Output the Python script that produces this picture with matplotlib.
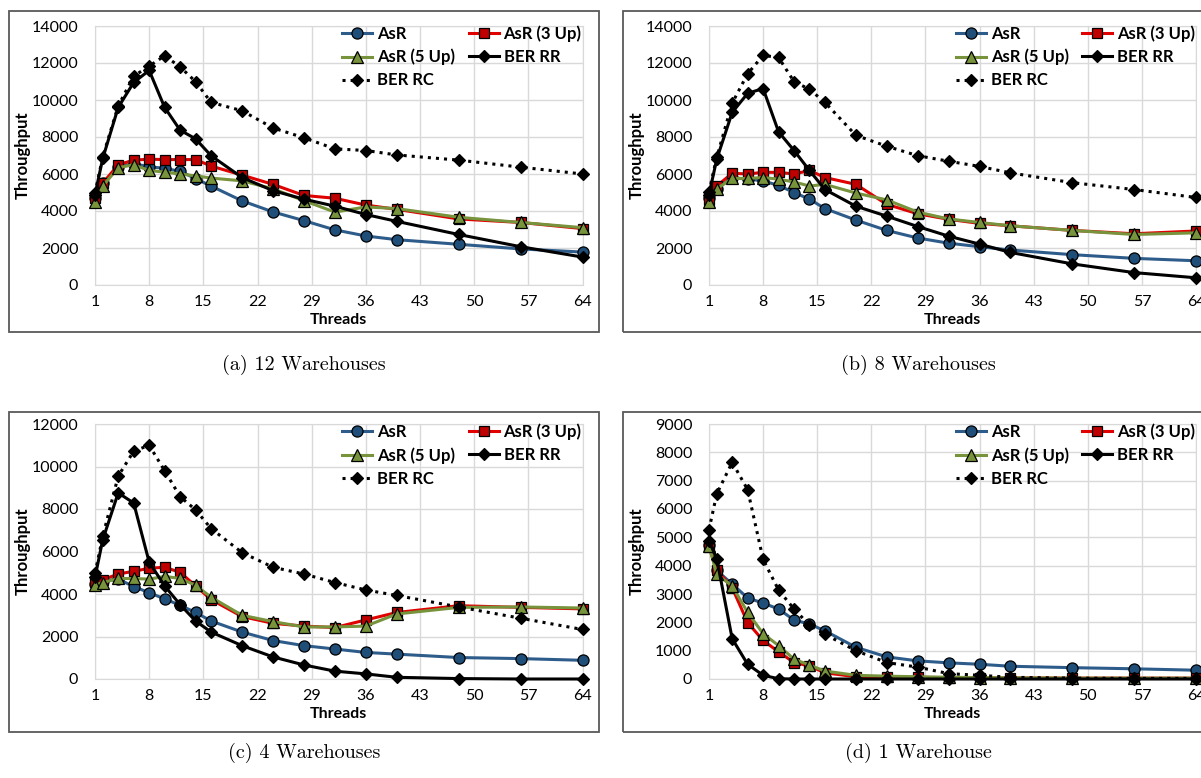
import matplotlib
matplotlib.use("Agg")
import matplotlib.pyplot as plt
from matplotlib.patches import Rectangle

plt.rcParams['font.family'] = ['Lato', 'DejaVu Sans']

threads = [1, 2, 4, 6, 8, 10, 12, 14, 16, 20, 24, 28, 32, 36, 40, 48, 56, 64]
series_names = ["AsR", "AsR (3 Up)", "AsR (5 Up)", "BER RR", "BER RC"]

# (a) 12 warehouses
w12_asr = [4700, 5500, 6400, 6550, 6400, 6300, 6150, 5750, 5350, 4550, 3950, 3480, 2980, 2650, 2450, 2200, 1950, 1780]
w12_up3 = [4690, 5500, 6500, 6750, 6800, 6780, 6780, 6780, 6430, 5940, 5440, 4840, 4690, 4320, 4090, 3570, 3380, 3050]
w12_up5 = [4500, 5350, 6340, 6500, 6190, 6100, 6000, 5900, 5780, 5630, 5200, 4560, 3940, 4220, 4130, 3660, 3380, 3100]
w12_rr = [4880, 6840, 9600, 10950, 11600, 9600, 8370, 7900, 6990, 5810, 5100, 4640, 4260, 3810, 3440, 2730, 2070, 1510]
w12_rc = [4970, 6930, 9680, 11290, 11830, 12390, 11790, 10990, 9870, 9420, 8490, 7960, 7360, 7270, 7030, 6750, 6370, 6000]

# (b) 8 warehouses
w8_asr = [4700, 5200, 5800, 5720, 5630, 5380, 5000, 4640, 4130, 3510, 2950, 2540, 2260, 2070, 1890, 1640, 1440, 1310]
w8_up3 = [4600, 5350, 6040, 6000, 6090, 6090, 6000, 6190, 5810, 5440, 4360, 3850, 3550, 3330, 3200, 2950, 2770, 2920]
w8_up5 = [4500, 5200, 5760, 5760, 5810, 5720, 5570, 5350, 5440, 4970, 4600, 3940, 3570, 3380, 3200, 2950, 2730, 2820]
w8_rr = [4880, 6800, 9330, 10360, 10620, 8280, 7270, 6190, 5160, 4260, 3720, 3160, 2640, 2210, 1760, 1140, 670, 390]
w8_rc = [5030, 6900, 9830, 11420, 12410, 12300, 10990, 10580, 9870, 8090, 7500, 6990, 6690, 6410, 6060, 5530, 5160, 4730]

# (c) 4 warehouses
w4_asr = [4460, 4620, 4700, 4350, 4060, 3770, 3470, 3130, 2730, 2210, 1810, 1570, 1410, 1250, 1170, 1010, 960, 880]
w4_up3 = [4570, 4670, 4940, 5070, 5210, 5260, 5020, 4380, 3740, 2940, 2620, 2490, 2420, 2780, 3130, 3450, 3370, 3300]
w4_up5 = [4410, 4540, 4730, 4730, 4700, 4830, 4730, 4410, 3850, 3000, 2700, 2450, 2450, 2490, 3060, 3370, 3390, 3340]
w4_rr = [4780, 6550, 8760, 8280, 5500, 4380, 3500, 2730, 2210, 1570, 1040, 660, 370, 240, 80, 20, 0, 0]
w4_rc = [4970, 6710, 9550, 10720, 11000, 9800, 8580, 7960, 7080, 5950, 5260, 4940, 4540, 4190, 3930, 3390, 2860, 2330]

# (d) 1 warehouse
w1_asr = [4730, 3830, 3350, 2860, 2680, 2470, 2080, 1940, 1700, 1120, 780, 640, 570, 520, 450, 400, 360, 310]
w1_up3 = [4670, 3850, 3220, 1990, 1360, 960, 580, 460, 220, 80, 70, 60, 50, 40, 40, 30, 30, 30]
w1_up5 = [4700, 3700, 3280, 2350, 1600, 1180, 700, 490, 280, 130, 100, 80, 60, 50, 40, 30, 30, 30]
w1_rr = [4870, 4250, 1420, 520, 130, 10, 0, 0, 0, 0, 0, 0, 0, 0, 0, 0, 0, 0]
w1_rc = [5270, 6530, 7650, 6680, 4220, 3140, 2470, 1900, 1580, 1000, 580, 420, 190, 130, 60, 30, 20, 20]

captions = ["(a) 12 Warehouses", "(b) 8 Warehouses", "(c) 4 Warehouses", "(d) 1 Warehouse"]
panel_data = [
    [w12_asr, w12_up3, w12_up5, w12_rr, w12_rc],
    [w8_asr, w8_up3, w8_up5, w8_rr, w8_rc],
    [w4_asr, w4_up3, w4_up5, w4_rr, w4_rc],
    [w1_asr, w1_up3, w1_up5, w1_rr, w1_rc],
]
y_max = [14000, 14000, 12000, 9000]
y_step = [2000, 2000, 2000, 1000]

styles = [
    dict(color='#2E5C8A', marker='o', mfc='#1F4E79', ms=8, ls='-'),
    dict(color='#E00000', marker='s', mfc='#C00000', ms=7.5, ls='-'),
    dict(color='#77933C', marker='^', mfc='#77933C', ms=8.5, ls='-'),
    dict(color='black', marker='D', mfc='black', ms=6, ls='-'),
    dict(color='black', marker='D', mfc='black', ms=6, ls=':'),
]

W, H = 1201, 778
fig = plt.figure(figsize=(W / 100, H / 100), dpi=100)

# plot areas in pixels (left, top, right, bottom) and frames
plot_px = [(95, 26, 582.5, 285), (709, 26, 1196, 285),
           (95, 424, 582.5, 679), (709, 424, 1196, 679)]
frame_px = [(9, 11, 599, 332), (623, 11, 1213, 332),
            (9, 412, 599, 732), (623, 412, 1213, 732)]
caption_y = [365, 365, 753, 753]

for i in range(4):
    l, t, r, b = plot_px[i]
    ax = fig.add_axes([l / W, 1 - b / H, (r - l) / W, (b - t) / H])
    lines = []
    for vals, st in zip(panel_data[i], styles):
        ln, = ax.plot(threads, vals, color=st['color'], ls=st['ls'], lw=2.2,
                      marker=st['marker'], ms=st['ms'], mfc=st['mfc'],
                      mec='black', mew=0.9, clip_on=False, zorder=3)
        lines.append(ln)
    ax.set_xlim(1, 64)
    ax.set_ylim(0, y_max[i])
    ax.set_xticks(range(1, 65, 7))
    ax.set_yticks(range(0, y_max[i] + 1, y_step[i]))
    ax.grid(True, color='#D9D9D9', lw=1)
    ax.set_axisbelow(True)
    for s in ax.spines.values():
        s.set_color('#D9D9D9')
    ax.tick_params(length=0, labelsize=11.5)
    ax.tick_params(axis='y', pad=12)
    ax.tick_params(axis='x', pad=7)
    ax.set_xlabel("Threads", fontsize=11.5, fontweight='bold', labelpad=3)
    ax.set_ylabel("Throughput", fontsize=12, fontweight='bold', va='center')
    ax.yaxis.set_label_coords(-72 / (r - l), 0.5)

    order = [0, 2, 4, 1, 3]
    ax.legend([lines[k] for k in order], [series_names[k] for k in order],
              ncol=2, loc='upper left', bbox_to_anchor=(0.49, 1.035),
              frameon=False, borderpad=0, handlelength=1.8, handletextpad=0.3,
              columnspacing=0.8, labelspacing=0.42,
              prop={'weight': 'bold', 'size': 12})

    fl, ft, fr, fb = frame_px[i]
    fig.patches.append(Rectangle((fl / W, 1 - fb / H), (fr - fl) / W, (fb - ft) / H,
                                 transform=fig.transFigure, fill=False,
                                 edgecolor='#595959', lw=1.3))
    fig.text(((fl + fr) / 2) / W, 1 - caption_y[i] / H, captions[i],
             ha='center', va='center', fontsize=14.5, family='cmr10')

fig.savefig("out.png", dpi=100)
